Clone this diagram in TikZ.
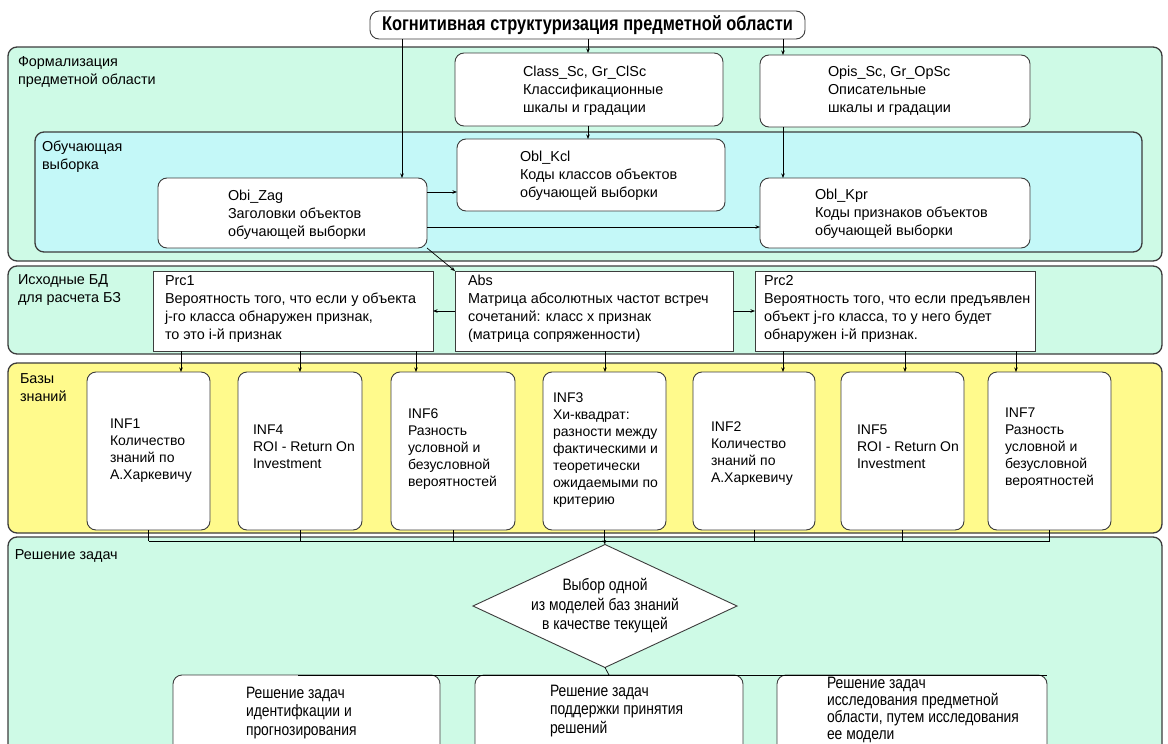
\documentclass[tikz,border=0pt]{standalone}
\usepackage{fontspec}
\setmainfont{Liberation Sans}
\newfontfamily\narrowfont[FakeStretch=0.84]{Liberation Sans}
\newfontfamily\titlefont[FakeStretch=0.82]{Liberation Sans}
\usetikzlibrary{shapes.geometric,arrows.meta}
\definecolor{mint}{RGB}{206,250,230}
\definecolor{lcyan}{RGB}{196,248,248}
\definecolor{yel}{RGB}{255,250,140}
\definecolor{edge}{RGB}{60,60,60}
\tikzset{
 outer/.style={draw=edge, line width=1.3pt, rounded corners=9pt, inner sep=0pt, outer sep=0pt},
 wbox/.style={draw=edge, fill=white, line width=0.9pt, rounded corners=9pt, inner sep=0pt, outer sep=0pt},
 sbox/.style={draw=edge, fill=white, line width=0.9pt, inner sep=0pt, outer sep=0pt},
 dbox/.style={shape=diamond, draw=edge, fill=white, line width=0.9pt, inner sep=0pt, outer sep=0pt},
 txt/.style={inner sep=0pt, outer sep=0pt, align=left, anchor=north west, font=\fontsize{14.4}{18.3}\selectfont},
 inftxt/.style={txt, font=\fontsize{14}{17}\selectfont},
 ntxt/.style={txt, font=\narrowfont\fontsize{16.5}{18.5}\selectfont},
 n3txt/.style={txt, font=\narrowfont\fontsize{16.5}{17}\selectfont},
 arr/.style={draw=black, line width=0.7pt, -{Stealth[length=4.5pt,width=3.5pt]}},
 ln/.style={draw=black, line width=0.7pt},
}
\newcommand{\bx}[6]{\node[#6, anchor=north west, minimum width={#4-#2}, minimum height={#5-#3}] (#1) at (#2,#3) {};}
\newcommand{\T}{\rule{0pt}{12pt}}
\newcommand{\tx}[5]{\node[#5] (#1) at (#2,{#3-8}) {\T #4};}
\begin{document}
\begin{tikzpicture}[x=1pt,y=-1pt]
\useasboundingbox (0,0) rectangle (1168,744);
\clip (0,0) rectangle (1168,744);
\fill[white] (0,0) rectangle (1168,744);
% outer regions
\bx{form}{8}{47}{1162}{261}{outer,fill=mint}
\bx{ucheb}{35}{132}{1142}{252}{outer,fill=lcyan}
\bx{isx}{8}{266}{1162}{354}{outer,fill=mint}
\bx{bazy}{8}{363}{1162}{533}{outer,fill=yel}
\bx{resh}{8}{537}{1162}{790}{outer,fill=mint}
% title
\bx{title}{370}{11}{805}{39}{wbox}
\node[inner sep=0pt, font=\titlefont\bfseries\fontsize{20}{23}\selectfont] (titletext) at (title.center) {Когнитивная структуризация предметной области};
% boxes
\bx{cls}{455}{53}{723}{126}{wbox}
\bx{opis}{760}{55}{1030}{127}{wbox}
\bx{kcl}{457}{139}{725}{211}{wbox}
\bx{zag}{158}{178}{427}{248}{wbox}
\bx{kpr}{760}{178}{1030}{248}{wbox}
\bx{prc1}{153}{271}{433}{351}{sbox}
\bx{abs}{455}{271}{733}{351}{sbox}
\bx{prc2}{755}{271}{1035}{351}{sbox}
\bx{inf1}{87}{372}{210}{530}{wbox}
\bx{inf4}{238}{372}{362}{530}{wbox}
\bx{inf6}{391}{372}{515}{530}{wbox}
\bx{inf3}{543}{372}{666}{530}{wbox}
\bx{inf2}{693}{372}{815}{530}{wbox}
\bx{inf5}{841}{372}{964}{530}{wbox}
\bx{inf7}{988}{372}{1111}{530}{wbox}
\node[dbox, minimum width=264, minimum height=123] (dia) at (605,606) {};
\bx{b1}{173}{675}{440}{790}{wbox}
\bx{b2}{475}{675}{743}{790}{wbox}
\bx{b3}{777}{675}{1047}{790}{wbox}
% texts
\tx{formt}{18}{62}{Формализация\\предметной области}{txt}
\tx{uchebt}{42}{147}{Обучающая\\выборка}{txt}
\tx{clst}{523}{72}{Class\_Sc, Gr\_ClSc\\Классификационные\\шкалы и градации}{txt}
\tx{opist}{828}{72}{Opis\_Sc, Gr\_OpSc\\Описательные\\шкалы и градации}{txt}
\tx{kclt}{520}{157}{Obl\_Kcl\\Коды классов объектов\\обучающей выборки}{txt}
\tx{zagt}{228}{196}{Obi\_Zag\\Заголовки объектов\\обучающей выборки}{txt}
\tx{kprt}{815}{195}{Obl\_Kpr\\Коды признаков объектов\\обучающей выборки}{txt}
\tx{isxt}{18}{280}{Исходные БД\\для расчета БЗ}{txt}
\tx{prc1t}{165}{281}{Prc1\\Вероятность того, что если у объекта\\j-го класса обнаружен признак,\\то это i-й признак}{txt}
\tx{abst}{468}{281}{Abs\\Матрица абсолютных частот встреч\\сочетаний: класс х признак\\(матрица сопряженности)}{txt}
\tx{prc2t}{764}{281}{Prc2\\Вероятность того, что если предъявлен\\объект j-го класса, то у него будет\\обнаружен i-й признак.}{txt}
\tx{bazyt}{20}{379}{Базы\\знаний}{txt}
\tx{inf1t}{110}{424}{INF1\\Количество\\знаний по\\А.Харкевичу}{inftxt}
\tx{inf4t}{253}{430}{INF4\\ROI - Return On\\Investment}{inftxt}
\tx{inf6t}{408}{414}{INF6\\Разность\\условной и\\безусловной\\вероятностей}{inftxt}
\tx{inf3t}{553}{398}{INF3\\Хи-квадрат:\\разности между\\фактическими и\\теоретически\\ожидаемыми по\\критерию}{inftxt}
\tx{inf2t}{711}{427}{INF2\\Количество\\знаний по\\А.Харкевичу}{inftxt}
\tx{inf5t}{857}{430}{INF5\\ROI - Return On\\Investment}{inftxt}
\tx{inf7t}{1005}{413}{INF7\\Разность\\условной и\\безусловной\\вероятностей}{inftxt}
\tx{resht}{15}{555}{Решение задач}{txt}
\node[inner sep=0pt, align=center, font=\narrowfont\fontsize{16.5}{19.5}\selectfont] (diat) at (605,606) {Выбор одной\\из моделей баз знаний\\в качестве текущей};
\tx{b1t}{246}{694}{Решение задач\\идентифкации и\\прогнозирования}{ntxt}
\tx{b2t}{550}{692}{Решение задач\\поддержки принятия\\решений}{ntxt}
\tx{b3t}{827}{684}{Решение задач\\исследования предметной\\области, путем исследования\\ее модели}{n3txt}
% coordinates
\coordinate (xL) at (402,0);
\coordinate (xM) at (588,0);
\coordinate (xR) at (783,0);
\coordinate (yK) at (0,192);
\coordinate (yP) at (0,227);
\coordinate (p1) at (181,0);
\coordinate (p2) at (300,0);
\coordinate (p3) at (416,0);
\coordinate (p4) at (605,0);
\coordinate (p5) at (783,0);
\coordinate (p6) at (905,0);
\coordinate (p7) at (1016,0);
\coordinate (busY) at (0,541);
\coordinate (xb) at (298,0);
% connectors
\draw[arr] (title.south -| xL) -- (zag.north -| xL);
\draw[arr] (title.south -| xM) -- (cls.north -| xM);
\draw[arr] (title.south -| xR) -- (opis.north -| xR);
\draw[arr] (cls.south -| xM) -- (kcl.north -| xM);
\draw[arr] (opis.south -| xR) -- (kpr.north -| xR);
\draw[arr] (zag.east |- yK) -- (kcl.west |- yK);
\draw[arr] (zag.east |- yP) -- (kpr.west |- yP);
\draw[arr] (zag.south east) -- (abs.north west);
\draw[arr] (abs.west) -- (prc1.east);
\draw[arr] (abs.east) -- (prc2.west);
\draw[arr] (prc1.south -| p1) -- (inf1.north -| p1);
\draw[arr] (prc1.south -| p2) -- (inf4.north -| p2);
\draw[arr] (prc1.south -| p3) -- (inf6.north -| p3);
\draw[arr] (abs.south -| p4) -- (inf3.north -| p4);
\draw[arr] (prc2.south -| p5) -- (inf2.north -| p5);
\draw[arr] (prc2.south -| p6) -- (inf5.north -| p6);
\draw[arr] (prc2.south -| p7) -- (inf7.north -| p7);
\foreach \n in {inf1,inf4,inf6,inf3,inf2,inf5,inf7}
  \draw[ln] (\n.south) -- (\n.south |- busY);
\draw[ln] (inf1.south |- busY) -- (inf7.south |- busY);
\draw[arr] (inf3.south |- busY) -- (dia.north);
\draw[ln] (dia.south) -- (b2.north);
\draw[ln] (b1.north -| xb) -- (b3.north east);
\end{tikzpicture}
\end{document}
